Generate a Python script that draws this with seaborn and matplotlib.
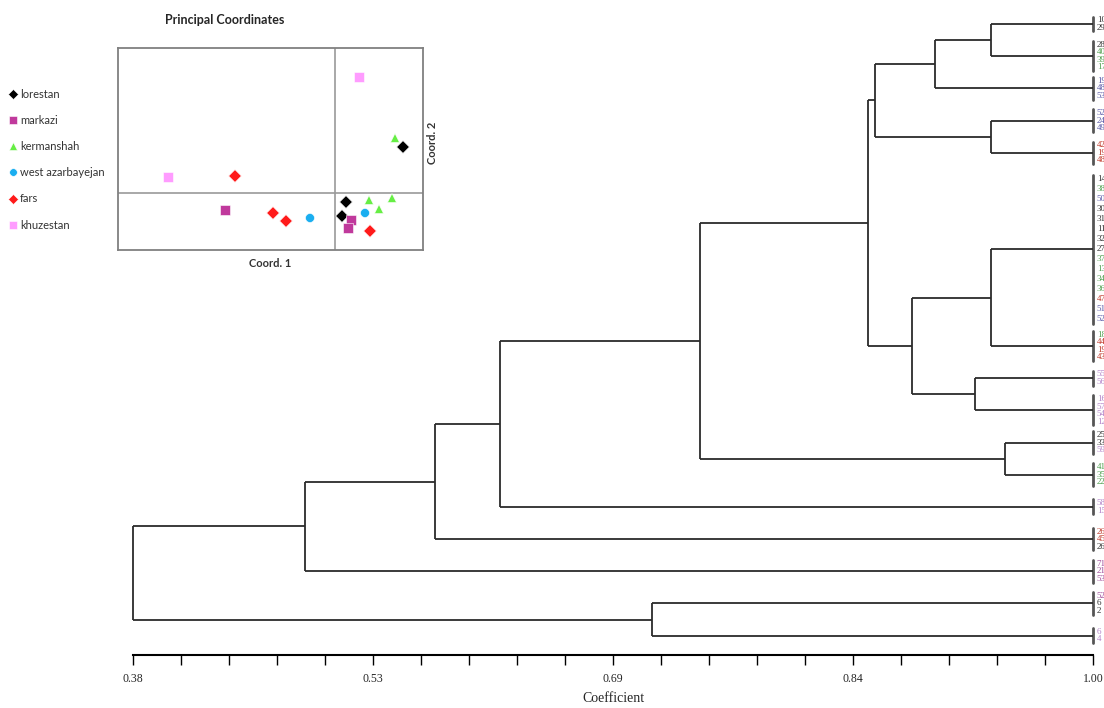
import numpy as np
import pandas as pd
import seaborn as sns
import matplotlib.pyplot as plt

sns.set_theme(style="white")

# --------------------------
# Dendrogram data
# --------------------------
# leaf groups (identical at coefficient 1.00), top to bottom
group_labels = [
    ["10", "29"],
    ["28", "40", "39", "17"],
    ["19", "48", "53"],
    ["52", "24", "49"],
    ["42", "19", "48"],
    ["14", "38", "50", "30", "31", "11", "32", "27", "37", "13", "34", "36", "47", "51", "52"],
    ["18", "44", "19", "43"],
    ["55", "56"],
    ["16", "57", "54", "12"],
    ["25", "33", "59"],
    ["41", "35", "22"],
    ["58", "15"],
    ["26", "45", "26"],
    ["71", "21", "53"],
    ["52", "6", "2"],
    ["6", "4"],
]
# province code of each leaf: L lorestan, M markazi, K kermanshah, W west azarbayejan, F fars, Z khuzestan
group_prov = [
    ["L", "L"],
    ["L", "K", "K", "K"],
    ["W", "W", "W"],
    ["W", "W", "W"],
    ["F", "F", "F"],
    ["L", "K", "W", "L", "L", "L", "L", "L", "K", "K", "K", "K", "F", "W", "W"],
    ["K", "F", "F", "F"],
    ["Z", "Z"],
    ["Z", "Z", "Z", "Z"],
    ["L", "L", "Z"],
    ["K", "K", "K"],
    ["Z", "Z"],
    ["F", "F", "L"],
    ["M", "M", "M"],
    ["M", "L", "L"],
    ["Z", "Z"],
]
# merges: (child a, child b, coefficient); groups are nodes 0..15, new nodes from 16
merge_a = [0, 16, 3, 17, 5, 7, 20, 19, 9, 23, 25, 26, 27, 14, 28]
merge_b = [1, 2, 4, 18, 6, 8, 21, 22, 10, 24, 11, 12, 13, 15, 29]
merge_h = [0.934, 0.898, 0.934, 0.859, 0.934, 0.924, 0.883, 0.855, 0.943,
           0.746, 0.617, 0.575, 0.491, 0.715, 0.38]

tick_values = np.linspace(0.38, 1.00, 21)
tick_text = ["0.38", "0.53", "0.69", "0.84", "1.00"]

# --------------------------
# PCoA data
# --------------------------
pc_prov = ["khuzestan", "khuzestan",
           "kermanshah", "kermanshah", "kermanshah", "kermanshah",
           "lorestan", "lorestan", "lorestan",
           "fars", "fars", "fars", "fars",
           "markazi", "markazi", "markazi",
           "west azarbayejan", "west azarbayejan"]
pc1 = [0.24, -1.67, 0.60, 0.34, 0.57, 0.44, 0.68, 0.11, 0.07,
       -1.00, -0.62, -0.49, 0.35, -1.10, 0.16, 0.13, -0.25, 0.30]
pc2 = [1.16, 0.16, 0.55, -0.07, -0.05, -0.16, 0.46, -0.09, -0.23,
       0.17, -0.20, -0.28, -0.38, -0.17, -0.27, -0.35, -0.25, -0.20]

prov_order = ["lorestan", "markazi", "kermanshah", "west azarbayejan", "fars", "khuzestan"]
prov_colors = {"lorestan": "#000000", "markazi": "#c0399c", "kermanshah": "#66ee44",
               "west azarbayejan": "#1aaef0", "fars": "#ff1a1a", "khuzestan": "#ff9cff"}
prov_markers = {"lorestan": "D", "markazi": "s", "kermanshah": "^",
                "west azarbayejan": "o", "fars": "D", "khuzestan": "s"}
leaf_colors = {"L": "#333333", "M": "#a04c9a", "K": "#4f9f4f", "W": "#5a5aa8",
               "F": "#c0392b", "Z": "#b384c9"}

fig = plt.figure(figsize=(11.04, 7.08), dpi=100)
fig.patch.set_facecolor("white")

# --------------------------
# Dendrogram
# --------------------------
ax = fig.add_axes([133 / 1104, 1 - 655 / 708, 960 / 1104, 650 / 708])
ax.set_facecolor("none")
line_kw = dict(color="#2b2b2b", lw=1.3, solid_capstyle="butt", clip_on=False)

node_y, node_h = [], []
slot = 0
for labels, provs in zip(group_labels, group_prov):
    n = len(labels)
    slots = max(1, n // 3)
    center = slot + (slots - 1) / 2
    slot += slots
    sp = 0.93 * slots / max(n, 4)
    ax.plot([1.0, 1.0], [center - n * sp / 2, center + n * sp / 2],
            color="#555555", lw=2, clip_on=False)
    for i, (lab, p) in enumerate(zip(labels, provs)):
        yy = center - n * sp / 2 + (i + 0.5) * sp
        ax.text(1.0025, yy, lab, fontsize=6.5, family="Liberation Serif",
                color=leaf_colors[p], va="center", ha="left", clip_on=False)
    node_y.append(center)
    node_h.append(1.0)

for a, b, h in zip(merge_a, merge_b, merge_h):
    ax.plot([h, h], [node_y[a], node_y[b]], **line_kw)
    ax.plot([h, node_h[a]], [node_y[a], node_y[a]], **line_kw)
    ax.plot([h, node_h[b]], [node_y[b], node_y[b]], **line_kw)
    node_y.append((node_y[a] + node_y[b]) / 2)
    node_h.append(h)

ax.set_xlim(0.38, 1.00)
ax.set_ylim(19.6, -0.59)
for s in ["top", "left", "right"]:
    ax.spines[s].set_visible(False)
ax.spines["bottom"].set_color("black")
ax.spines["bottom"].set_linewidth(1.5)
ax.set_yticks([])
ax.set_xticks(tick_values)
ax.set_xticklabels([tick_text[i // 5] if i % 5 == 0 else "" for i in range(21)],
                   family="Liberation Serif", fontsize=8.5)
ax.tick_params(axis="x", bottom=True, direction="out", length=7, width=1,
               color="black", pad=6)
ax.set_xlabel("Coefficient", family="Liberation Serif", fontsize=10, labelpad=5)

# --------------------------
# Principal coordinates inset
# --------------------------
df = pd.DataFrame({"province": pc_prov, "pc1": pc1, "pc2": pc2})
ins = fig.add_axes([118 / 1104, 1 - 250 / 708, 305 / 1104, 202 / 708])
ins.set_facecolor("white")
ins.axhline(0, color="#9a9a9a", lw=1.2, zorder=1)
ins.axvline(0, color="#9a9a9a", lw=1.2, zorder=1)
sns.scatterplot(data=df, x="pc1", y="pc2", hue="province", style="province",
                hue_order=prov_order, style_order=prov_order,
                palette=prov_colors, markers=prov_markers, s=42,
                edgecolor="white", linewidth=0.4, ax=ins, zorder=3)
ins.set_xlim(-2.17, 0.88)
ins.set_ylim(-0.57, 1.45)
ins.set_xticks([])
ins.set_yticks([])
ins.set_xlabel("")
ins.set_ylabel("")
for s in ins.spines.values():
    s.set_color("#808080")
    s.set_linewidth(1.3)

sns.move_legend(ins, loc="upper left", bbox_to_anchor=(10 / 1104, 1 - 89 / 708),
                bbox_transform=fig.transFigure, frameon=False, title="",
                labelspacing=1.36, handlelength=0.6, handletextpad=0.3,
                borderpad=0, borderaxespad=0, fontsize=8, markerscale=0.85)
for t in ins.get_legend().get_texts():
    t.set_family("Lato")
    t.set_color("#333333")

fig.text(225 / 1104, 1 - 20 / 708, "Principal Coordinates", ha="center", va="center",
         fontsize=9, fontweight="bold", family="Lato")
fig.text(270 / 1104, 1 - 263 / 708, "Coord. 1", ha="center", va="center",
         fontsize=8, fontweight="bold", family="Lato", color="#333333")
fig.text(432 / 1104, 1 - 143 / 708, "Coord. 2", ha="center", va="center",
         rotation=90, fontsize=8, fontweight="bold", family="Lato", color="#333333")

fig.savefig("out.png", dpi=100, facecolor="white")
